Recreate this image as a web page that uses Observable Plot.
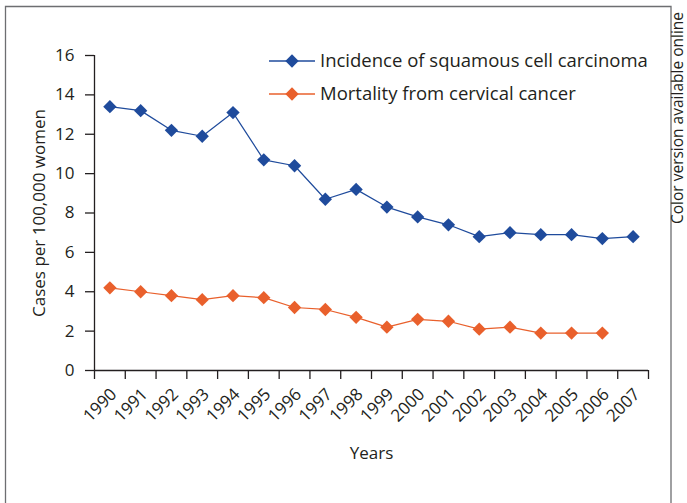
<!DOCTYPE html>
<html><head><meta charset="utf-8">
<script src="https://cdn.jsdelivr.net/npm/d3@7"></script>
<script src="https://cdn.jsdelivr.net/npm/@observablehq/plot@0.6"></script>
<style>
body{margin:0;background:#fff;}
#chart{position:relative;width:687px;height:503px;overflow:hidden;}
</style></head><body><div id="chart"></div>
<script>
const years = [1990,1991,1992,1993,1994,1995,1996,1997,1998,1999,2000,2001,2002,2003,2004,2005,2006,2007];
const incidence = [13.4,13.2,12.2,11.9,13.1,10.7,10.4,8.7,9.2,8.3,7.8,7.4,6.8,7.0,6.9,6.9,6.7,6.8];
const mortality = [4.2,4.0,3.8,3.6,3.8,3.7,3.2,3.1,2.7,2.2,2.6,2.5,2.1,2.2,1.9,1.9,1.9,null];
const seriesNames = ["Incidence of squamous cell carcinoma","Mortality from cervical cancer"];
const seriesColors = ["#1f4b9c","#e9602c"];
const yTicks = [0,2,4,6,8,10,12,14,16];
const yLabel = "Cases per 100,000 women";
const xLabel = "Years";
const sideNote = "Color version available online";

const rows = [];
[incidence, mortality].forEach((vals, i) => {
  vals.forEach((v, j) => { if (v != null) rows.push({year: years[j], value: v, series: seriesNames[i]}); });
});
const edges = [years[0] - 0.5, ...years.map(y => y + 0.5)];

const font = "Open Sans";
const ink = "#231f20";

const plot = Plot.plot({
  width: 687, height: 503,
  marginLeft: 94, marginRight: 39, marginTop: 55, marginBottom: 133,
  style: {fontFamily: font, fontSize: "16px", color: ink, background: "white", overflow: "visible"},
  x: {domain: [edges[0], edges[edges.length - 1]]},
  y: {domain: [0, 16]},
  color: {domain: seriesNames, range: seriesColors},
  marks: [
    Plot.axisY({ticks: yTicks, tickSize: 9, tickPadding: 11, fontSize: 17, strokeWidth: 1.3,
      label: yLabel, labelAnchor: "center", labelArrow: "none", labelOffset: 62}),
    Plot.axisX({ticks: edges, tickSize: 9, strokeWidth: 1.3, tickFormat: () => "", label: null}),
    Plot.axisX({ticks: years, tickSize: 0, tickPadding: 21, dx: 4, tickRotate: -45, fontSize: 17,
      tickFormat: d => String(d), label: null}),
    Plot.axisX({ticks: [], tickSize: 0, fontSize: 17, label: xLabel, labelAnchor: "center", labelArrow: "none", labelOffset: 88}),
    Plot.ruleX([edges[0]], {stroke: ink, strokeWidth: 1.3}),
    Plot.ruleY([0], {stroke: ink, strokeWidth: 1.3}),
    Plot.line(rows, {x: "year", y: "value", z: "series", stroke: "series", strokeWidth: 1.2}),
    Plot.dot(rows, {x: "year", y: "value", fill: "series", symbol: "diamond2", r: 6})
  ]
});

const svg = d3.select(plot);
// frame border
svg.append("path").attr("d", "M5.5,520V6.5H671V520").attr("fill", "none").attr("stroke", "#6d6e71").attr("stroke-width", 1.3);
// side note
svg.append("text").attr("transform", "translate(682.5,224) rotate(-90)").attr("text-anchor", "start")
  .attr("font-family", font).attr("font-size", 15.5).attr("fill", ink).text(sideNote);
// legend
const leg = svg.append("g");
seriesNames.forEach((name, i) => {
  const y = 61 + i * 33;
  const g = leg.append("g").attr("transform", `translate(0,${y})`);
  g.append("line").attr("x1", 269).attr("x2", 315).attr("stroke", seriesColors[i]).attr("stroke-width", 1.3);
  g.append("path").attr("transform", "translate(292,0)").attr("d", d3.symbol(d3.symbolDiamond2, Math.PI * 36)()).attr("fill", seriesColors[i]);
  g.append("text").attr("x", 320).attr("dy", "0.35em").attr("text-anchor", "start")
    .attr("font-family", font).attr("font-size", 18.5).attr("fill", ink).text(name);
});

document.getElementById("chart").appendChild(plot);
</script></body></html>
